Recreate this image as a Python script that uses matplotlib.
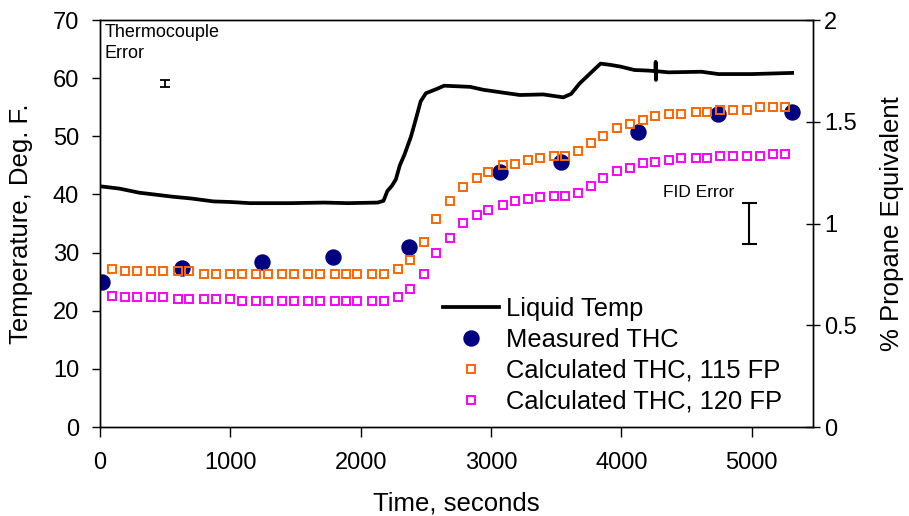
import matplotlib
matplotlib.use("Agg")
import matplotlib.pyplot as plt

plt.rcParams['font.family'] = ['Liberation Sans', 'DejaVu Sans']

# liquid temperature trace (seconds, deg F)
temp_time = [0, 150, 300, 450, 560, 700, 870, 1000, 1150, 1460, 1720, 1900,
             2130, 2175, 2205, 2240, 2270, 2300, 2335, 2385, 2425, 2460, 2500,
             2590, 2640, 2840, 2940, 3095, 3220, 3400, 3555, 3615, 3680, 3760,
             3840, 3910, 3990, 4100, 4205, 4262, 4263, 4265, 4267, 4360, 4615,
             4745, 5000, 5310]
temp_val = [41.4, 41.0, 40.3, 39.9, 39.6, 39.3, 38.8, 38.7, 38.5, 38.5, 38.6, 38.5,
            38.6, 38.9, 40.6, 41.5, 42.6, 45.0, 46.8, 49.9, 53.1, 56.0, 57.4,
            58.2, 58.7, 58.5, 58.0, 57.5, 57.1, 57.2, 56.7, 57.3, 59.1, 60.8,
            62.5, 62.3, 62.0, 61.4, 61.3, 61.2, 62.8, 59.7, 61.2, 61.0, 61.1,
            60.7, 60.7, 60.9]

# measured THC (% propane equivalent)
meas_time = [15, 630, 1245, 1790, 2370, 3070, 3540, 4125, 4740, 5310]
meas_thc = [0.711, 0.780, 0.811, 0.834, 0.886, 1.254, 1.303, 1.449, 1.537, 1.549]

# calculated THC
calc_time = [90, 195, 285, 395, 485, 595, 685, 795, 890, 1000,
             1090, 1195, 1290, 1395, 1485, 1595, 1685, 1800, 1890, 1975,
             2090, 2180, 2285, 2380, 2485, 2580, 2685, 2785, 2890, 2980,
             3090, 3180, 3285, 3375, 3480, 3565, 3665, 3770, 3860, 3970,
             4065, 4165, 4260, 4365, 4460, 4570, 4655, 4755, 4860, 4965,
             5065, 5165, 5255]
calc_115 = [0.774, 0.766, 0.766, 0.766, 0.766, 0.766, 0.766, 0.751, 0.751, 0.751,
            0.751, 0.751, 0.751, 0.751, 0.751, 0.751, 0.751, 0.751, 0.751, 0.751,
            0.751, 0.751, 0.774, 0.823, 0.911, 1.020, 1.109, 1.177, 1.226, 1.254,
            1.289, 1.294, 1.314, 1.323, 1.334, 1.334, 1.354, 1.394, 1.431, 1.471,
            1.491, 1.511, 1.529, 1.540, 1.540, 1.549, 1.549, 1.557, 1.557, 1.557,
            1.571, 1.571, 1.571]
calc_120 = [0.646, 0.637, 0.637, 0.637, 0.637, 0.629, 0.629, 0.629, 0.629, 0.629,
            0.617, 0.617, 0.617, 0.617, 0.617, 0.617, 0.617, 0.617, 0.617, 0.617,
            0.617, 0.617, 0.640, 0.677, 0.754, 0.854, 0.931, 1.003, 1.040, 1.066,
            1.091, 1.109, 1.120, 1.129, 1.137, 1.137, 1.149, 1.186, 1.226, 1.257,
            1.274, 1.297, 1.303, 1.314, 1.323, 1.323, 1.323, 1.331, 1.331, 1.331,
            1.331, 1.343, 1.343]

# error bars
tc_err_time, tc_err_val, tc_err = 500, 59.0, 0.6
fid_err_time, fid_err_val, fid_err = 4980, 1.0, 0.1

fig = plt.figure(figsize=(9.09, 5.16), dpi=100)
ax = fig.add_axes([100 / 909, 89 / 516, 713 / 909, 407 / 516])
ax2 = ax.twinx()

line, = ax.plot(temp_time, temp_val, color='black', lw=2.7, label='Liquid Temp')
ax.errorbar(tc_err_time, tc_err_val, yerr=tc_err, color='black', elinewidth=1.3,
            capsize=3.3, capthick=1.3)
ax.text(0.007, 0.99, 'Thermocouple\nError', transform=ax.transAxes, fontsize=13,
        va='top', ha='left', linespacing=1.3)

dots, = ax2.plot(meas_time, meas_thc, 'o', color='#000080', ms=10.8, ls='none',
                 label='Measured THC')
sq1, = ax2.plot(calc_time, calc_115, 's', mfc='none', mec='#FF6600', mew=1.4, ms=6,
                ls='none', label='Calculated THC, 115 FP')
sq2, = ax2.plot(calc_time, calc_120, 's', mfc='none', mec='#FF00FF', mew=1.4, ms=6,
                ls='none', label='Calculated THC, 120 FP')
ax2.errorbar(fid_err_time, fid_err_val, yerr=fid_err, color='black', elinewidth=1.5,
             capsize=5.4, capthick=1.5)
ax2.text(4317, 1.15, 'FID Error', fontsize=12.5, va='center', ha='left')

ax.set_xlim(0, 5470)
ax.set_ylim(0, 70)
ax.set_yticks(range(0, 71, 10))
ax.set_xticks(range(0, 5001, 1000))
ax2.set_ylim(0, 2)
ax2.set_yticks([0, 0.5, 1, 1.5, 2])
ax2.set_yticklabels(['0', '0.5', '1', '1.5', '2'])

ax.tick_params(axis='x', direction='out', length=7, width=1, labelsize=17, pad=11)
ax.tick_params(axis='y', direction='out', length=6, width=1, labelsize=17, pad=9)
ax2.tick_params(axis='y', direction='inout', length=10, width=1, labelsize=17, pad=3)

ax.set_xlabel('Time, seconds', fontsize=18.5)
ax.set_ylabel('Temperature, Deg. F.', fontsize=18.5)
ax2.set_ylabel('% Propane Equivalent', fontsize=18.5)
ax.xaxis.set_label_coords(0.5, -0.158)
ax.yaxis.set_label_coords(-0.094, 0.5)
ax2.yaxis.set_label_coords(1.094, 0.5)

for a in (ax, ax2):
    for s in a.spines.values():
        s.set_linewidth(1)

fig.legend(handles=[line, dots, sq1, sq2], loc='upper left',
           bbox_to_anchor=(443 / 909, 1 - 297 / 516), frameon=False, fontsize=18.4,
           handlelength=2.2, handletextpad=0.25, labelspacing=0.27,
           borderpad=0, borderaxespad=0)

fig.savefig('out.png', dpi=100)
